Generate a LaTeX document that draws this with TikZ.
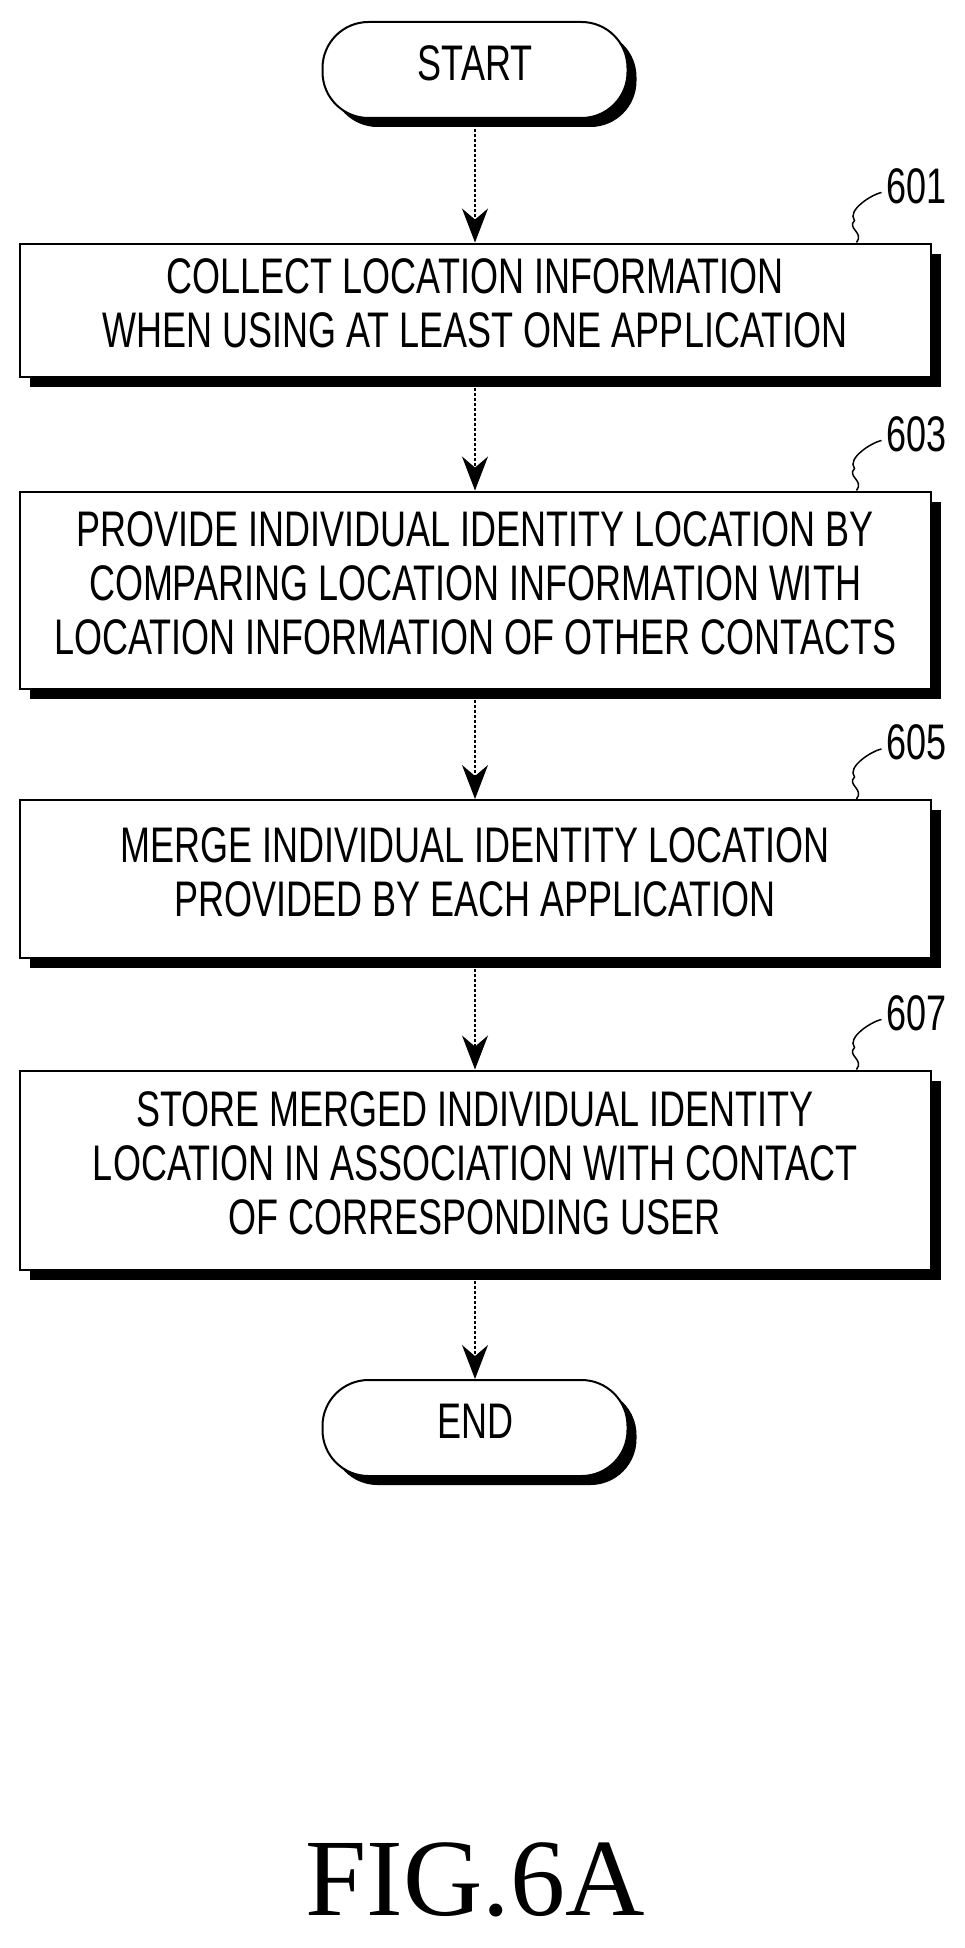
\documentclass[tikz,border=0pt]{standalone}
\usepackage{fontspec}
\setmainfont{Liberation Sans}
\newfontfamily\figfont{Liberation Serif}
\usetikzlibrary{arrows.meta,shadows}
\newcommand{\steptext}[1]{\scalebox{0.72}[1]{\begin{tabular}{c}#1\end{tabular}}}
\begin{document}
\begin{tikzpicture}[x=1pt,y=-1pt,line width=2pt,
    every node/.style={font=\fontsize{50}{54}\selectfont},
    term node/.style={draw,rounded corners=46pt,minimum width=305pt,minimum height=96pt,
      fill=white,drop shadow={shadow xshift=9pt,shadow yshift=-9pt,fill=black,opacity=1}},
    step node/.style={draw,minimum width=911pt,fill=white,inner sep=0pt,
      drop shadow={shadow xshift=10pt,shadow yshift=-10pt,fill=black,opacity=1}},
    flow/.style={densely dashed,line width=1.2pt,-{Stealth[length=34pt,width=26pt]}},
    ref/.style={line width=1.5pt}]
  \useasboundingbox (0,0) rectangle (964,1948);

  \node[term node] (start) at (475,70) {\steptext{START}};
  \node[step node,minimum height=133pt] (s601) at (475,310)
    {\steptext{COLLECT LOCATION INFORMATION\\WHEN USING AT LEAST ONE APPLICATION}};
  \node[step node,minimum height=197pt] (s603) at (475,590)
    {\steptext{PROVIDE INDIVIDUAL IDENTITY LOCATION BY\\COMPARING LOCATION INFORMATION WITH\\LOCATION INFORMATION OF OTHER CONTACTS}};
  \node[step node,minimum height=158pt] (s605) at (475,879)
    {\steptext{MERGE INDIVIDUAL IDENTITY LOCATION\\PROVIDED BY EACH APPLICATION}};
  \node[step node,minimum height=199pt] (s607) at (475,1170)
    {\steptext{STORE MERGED INDIVIDUAL IDENTITY\\LOCATION IN ASSOCIATION WITH CONTACT\\OF CORRESPONDING USER}};
  \node[term node] (end) at (475,1428) {\steptext{END}};

  \draw[flow] (start) -- (s601);
  \draw[flow] (s601) -- (s603);
  \draw[flow] (s603) -- (s605);
  \draw[flow] (s605) -- (s607);
  \draw[flow] (s607) -- (end);

  % step numbers
  \foreach \s/\n in {s601/601,s603/603,s605/605,s607/607}{
    \node[anchor=west,inner sep=0pt] (l\n) at ([xshift=-50pt,yshift=50pt]\s.north east) {\steptext{\n}};
    \draw[ref] ([xshift=-75pt]\s.north east) .. controls +(8,-10) and +(-8,8) .. +(-2,-22)
      .. controls +(-8,-10) and +(-10,2) .. (l\n.west);
  }

  \node[font=\figfont\fontsize{110}{110}\selectfont] (fig) at (475,1880) {FIG.6A};
\end{tikzpicture}
\end{document}
